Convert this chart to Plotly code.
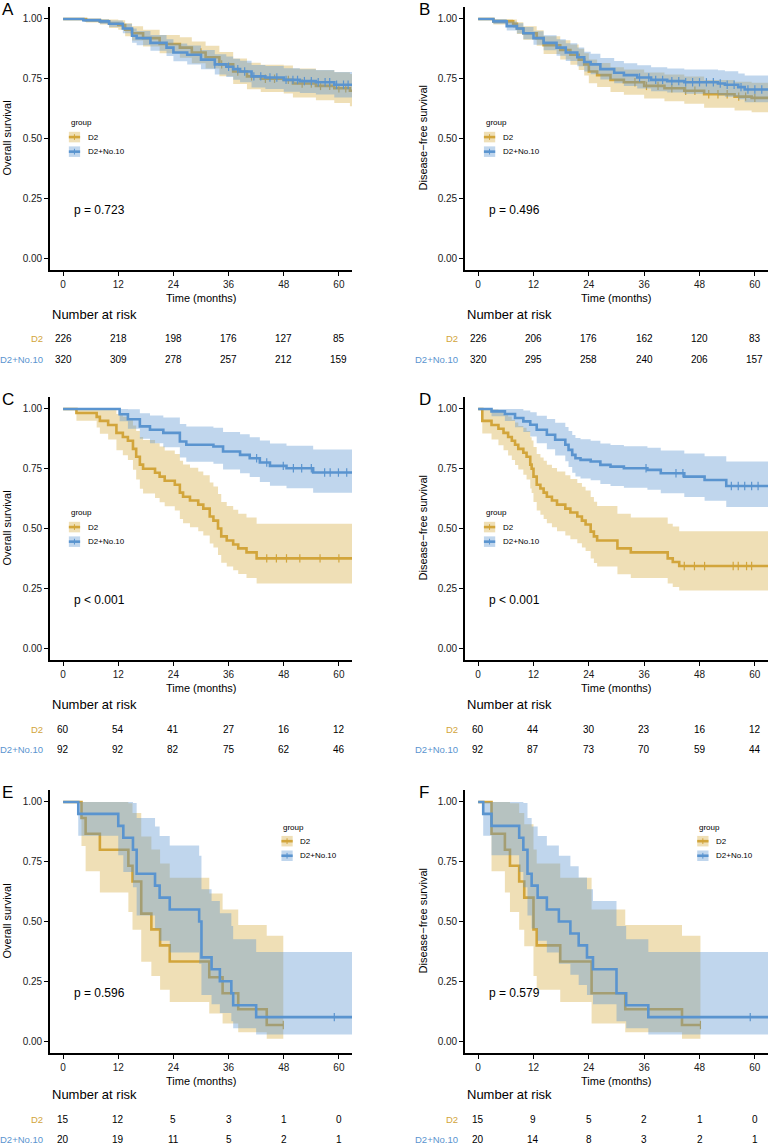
import plotly.graph_objects as go
from bisect import bisect_right

W, H = 768, 1146
GOLD = '#D2A53B'
BLUE = '#5A94CF'
GOLD_FILL = 'rgba(214,170,62,0.38)'
BLUE_FILL = 'rgba(90,148,207,0.38)'
FONT = 'Liberation Sans, Arial, Helvetica, sans-serif'

time_ticks = [0, 12, 24, 36, 48, 60]
surv_ticks = [0, 0.25, 0.5, 0.75, 1.0]
surv_labels = ['0.00', '0.25', '0.50', '0.75', '1.00']
groups = ['D2', 'D2+No.10']

# ---------------- Panel A (OS, all patients) ----------------
A_d2_t = [0, 5, 8, 10, 12, 13.5, 15, 17.4, 21, 25.4, 28, 31, 34, 37, 40, 43, 48, 50, 55, 59, 62.4]
A_d2_s = [1, .995, .99, .98, .975, .955, .94, .92, .895, .88, .86, .84, .81, .78, .76, .75, .745, .73, .72, .71, .70]
A_d2_lo = [1, .985, .977, .962, .955, .928, .91, .885, .857, .838, .815, .793, .76, .728, .706, .695, .688, .672, .66, .648, .635]
A_d2_hi = [1, 1, 1, .998, .995, .982, .97, .955, .933, .923, .906, .888, .862, .835, .817, .808, .805, .793, .785, .777, .770]
A_d2_cens = [30, 34.5, 38, 41, 44, 46, 49, 52, 54, 56, 58, 60, 61.5]
A_no10_t = [0, 4.4, 8, 10, 13, 15, 16, 19, 22.5, 24, 27, 30, 33, 35.5, 37, 38.5, 41, 44, 48, 51.5, 55, 59]
A_no10_s = [1, .995, .99, .98, .96, .93, .92, .90, .88, .86, .85, .83, .81, .80, .79, .78, .76, .755, .745, .74, .735, .725]
A_no10_lo = [1, .987, .979, .966, .94, .90, .89, .867, .845, .823, .81, .79, .768, .757, .746, .735, .713, .707, .696, .69, .684, .672]
A_no10_hi = [1, 1, .999, .994, .98, .96, .95, .933, .915, .897, .889, .87, .852, .843, .834, .825, .807, .803, .794, .79, .786, .778]
A_no10_cens = [33, 36, 38, 39.5, 41.5, 43, 45, 46.5, 48.5, 50, 51, 52.5, 54, 55.5, 57, 58, 59.5, 61, 62]
A_risk_d2 = [226, 218, 198, 176, 127, 85]
A_risk_no10 = [320, 309, 278, 257, 212, 159]

# ---------------- Panel B (DFS, all patients) ----------------
B_d2_t = [0, 3.3, 7.6, 8.4, 9.8, 12.7, 14.2, 17.8, 20, 21.8, 23, 24, 25.8, 28.7, 31.6, 36, 40.4, 44.7, 49, 55.6, 59.3]
B_d2_s = [1, .99, .98, .96, .94, .92, .89, .87, .85, .83, .81, .78, .765, .745, .735, .72, .71, .70, .685, .675, .67]
B_d2_lo = [1, .977, .962, .937, .913, .888, .853, .83, .808, .786, .764, .731, .715, .694, .683, .667, .656, .645, .629, .617, .61]
B_d2_hi = [1, 1, .998, .986, .969, .953, .928, .911, .893, .875, .857, .83, .816, .798, .789, .776, .768, .759, .745, .737, .733]
B_d2_cens = [34, 36.5, 39, 42, 45, 47, 50, 52, 54, 56.5, 58, 60]
B_no10_t = [0, 3.3, 6.2, 8.4, 9.8, 12, 14.2, 17, 19, 21.5, 23, 24.4, 26.5, 29.5, 31.6, 34.5, 37.5, 41, 44.7, 52, 53.5, 56.4, 57.8]
B_no10_s = [1, .99, .97, .96, .94, .92, .90, .88, .86, .84, .82, .81, .79, .775, .765, .755, .745, .74, .735, .73, .725, .715, .705]
B_no10_lo = [1, .979, .952, .939, .915, .892, .869, .846, .824, .802, .78, .769, .747, .731, .72, .709, .698, .692, .687, .681, .675, .664, .652]
B_no10_hi = [1, 1, .989, .982, .966, .949, .932, .915, .898, .881, .863, .854, .837, .824, .815, .806, .798, .793, .789, .785, .781, .772, .763]
B_no10_cens = [35, 37, 38.5, 40, 42, 43.5, 45, 46.5, 48, 49.5, 51, 52.5, 54, 55.5, 57, 58.5, 60, 61.5]
B_risk_d2 = [226, 206, 176, 162, 120, 83]
B_risk_no10 = [320, 295, 258, 240, 206, 157]

# ---------------- Panel C (OS, subgroup) ----------------
C_d2_t = [0, 2.9, 7.3, 8.0, 9.8, 11.6, 13.0, 14.1, 15.2, 15.9, 16.7, 17.4, 20.0, 21.0, 22.1, 24.3, 25.4, 26.1, 27.6, 29.4, 30.5, 31.9, 32.7, 33.7, 34.4, 35.6, 37.0, 38.1, 39.9, 42.1]
C_d2_s = [1, .983, .967, .95, .933, .90, .883, .867, .833, .80, .767, .75, .733, .717, .70, .683, .65, .633, .617, .60, .583, .55, .533, .50, .467, .45, .433, .417, .40, .375]
C_d2_lo = [1, .951, .922, .896, .872, .827, .806, .786, .746, .705, .666, .646, .628, .610, .593, .575, .540, .522, .505, .488, .471, .437, .421, .389, .357, .341, .325, .310, .293, .270]
C_d2_hi = [1, 1, 1, 1, .998, .979, .967, .956, .931, .908, .883, .870, .857, .843, .826, .812, .783, .768, .754, .738, .723, .692, .676, .644, .611, .594, .578, .562, .546, .520]
C_d2_cens = [44.3, 46.4, 48.6, 51.5, 55.9, 60.0]
C_no10_t = [0, 12.3, 14.1, 16.7, 18.9, 21.8, 25.4, 26.8, 32.7, 34.8, 38.5, 40.6, 42.8, 45.0, 48.6, 54.4]
C_no10_s = [1, .978, .957, .927, .913, .90, .864, .85, .843, .822, .808, .794, .776, .762, .752, .734]
C_no10_lo = [1, .949, .917, .875, .857, .840, .797, .779, .771, .747, .731, .715, .694, .679, .668, .650]
C_no10_hi = [1, 1, .999, .982, .973, .964, .937, .927, .921, .904, .894, .882, .868, .855, .846, .830]
C_no10_cens = [42.1, 44.3, 47.9, 50.1, 51.9, 54.0, 56.9, 58.1, 59.9, 61.7]
C_risk_d2 = [60, 54, 41, 27, 16, 12]
C_risk_no10 = [92, 92, 82, 75, 62, 46]

# ---------------- Panel D (DFS, subgroup) ----------------
D_d2_t = [0, 0.9, 2.9, 4.4, 5.5, 6.5, 7.3, 8.0, 8.7, 9.8, 10.5, 11.3, 11.6, 12.0, 12.7, 13.5, 14.2, 14.9, 16.0, 17.1, 18.9, 20.0, 21.5, 22.5, 23.3, 24.4, 25.1, 25.8, 30.2, 33.1, 41.1, 42.2, 43.6]
D_d2_s = [1, .95, .933, .917, .90, .883, .867, .85, .833, .817, .80, .767, .75, .717, .683, .667, .65, .633, .617, .60, .583, .567, .55, .533, .517, .487, .467, .45, .417, .40, .375, .36, .343]
D_d2_lo = [1, .897, .872, .848, .827, .805, .786, .766, .747, .725, .705, .667, .648, .611, .575, .558, .540, .522, .505, .488, .471, .455, .438, .421, .406, .375, .356, .341, .309, .293, .270, .255, .241]
D_d2_hi = [1, 1, .998, .991, .979, .968, .955, .943, .929, .921, .908, .882, .868, .841, .812, .797, .783, .767, .753, .738, .723, .707, .690, .675, .659, .632, .612, .594, .562, .546, .520, .508, .488]
D_d2_cens = [44.7, 46.9, 49.1, 55.3, 56.4, 58.2, 59.3]
D_no10_t = [0, 2.9, 5.8, 8.0, 9.8, 11.3, 12.7, 14.9, 16.7, 18.9, 19.6, 20.4, 21.1, 22.2, 24.4, 26.5, 28.7, 31.6, 36.7, 39.6, 44.7, 49.1, 53.8]
D_no10_s = [1, .99, .979, .962, .948, .934, .913, .892, .871, .85, .829, .808, .794, .787, .78, .766, .759, .752, .745, .731, .717, .703, .678]
D_no10_lo = [1, .97, .95, .924, .904, .885, .857, .831, .805, .781, .757, .733, .717, .709, .702, .686, .678, .670, .662, .647, .632, .616, .590]
D_no10_hi = [1, 1, 1, 1, .994, .986, .972, .958, .942, .925, .908, .891, .879, .873, .867, .855, .849, .844, .838, .826, .814, .802, .780]
D_no10_cens = [36.4, 42.9, 44.4, 54.9, 56.4, 57.8, 59.3, 60.7]
D_risk_d2 = [60, 44, 30, 23, 16, 12]
D_risk_no10 = [92, 87, 73, 70, 59, 44]

# ---------------- Panel E (OS, small subgroup) ----------------
E_d2_t = [0, 4.0, 4.9, 8.0, 14.2, 15.1, 17.0, 19.2, 21.1, 23.2, 31.8, 34.7, 38.1, 44.3]
E_d2_s = [1, .933, .867, .80, .733, .667, .533, .467, .40, .333, .267, .20, .133, .067]
E_d2_lo = [1, .816, .710, .621, .540, .466, .332, .272, .215, .163, .115, .073, .037, .010]
E_d2_hi = [1, 1, 1, 1, .995, .954, .856, .801, .743, .683, .617, .550, .485, .44]
E_d2_cens = [47.9]
E_no10_t = [0, 3.3, 12.0, 13.1, 15.2, 16.0, 20.0, 21.0, 23.2, 29.6, 30.1, 32.3, 34.1, 36.6, 37.0, 42.0]
E_no10_s = [1, .95, .90, .85, .80, .70, .65, .60, .55, .50, .35, .30, .25, .20, .15, .10]
E_no10_lo = [1, .859, .777, .707, .643, .525, .471, .420, .370, .323, .193, .154, .117, .083, .053, .027]
E_no10_hi = [1, 1, 1, 1, .996, .933, .897, .858, .818, .775, .635, .586, .534, .481, .426, .372]
E_no10_cens = [59.0]
E_risk_d2 = [15, 12, 5, 3, 1, 0]
E_risk_no10 = [20, 19, 11, 5, 2, 1]

# ---------------- Panel F (DFS, small subgroup) ----------------
F_d2_t = [0, 2.9, 5.8, 6.9, 8.9, 10.0, 12.0, 12.7, 17.8, 24.6, 31.9, 44.2]
F_d2_s = [1, .867, .80, .733, .667, .60, .467, .40, .333, .20, .133, .067]
F_d2_lo = [1, .710, .621, .540, .466, .397, .272, .215, .163, .073, .037, .010]
F_d2_hi = [1, 1, 1, .995, .954, .907, .801, .743, .683, .550, .485, .44]
F_d2_cens = [48.2]
F_no10_t = [0, 1.1, 2.9, 8.9, 9.8, 10.7, 11.6, 12.9, 14.9, 17.5, 20.0, 21.8, 23.6, 24.9, 30.0, 32.1, 36.9]
F_no10_s = [1, .95, .90, .85, .80, .70, .65, .60, .55, .50, .45, .40, .35, .30, .20, .15, .10]
F_no10_lo = [1, .859, .777, .707, .643, .525, .471, .420, .370, .323, .277, .234, .193, .154, .083, .053, .027]
F_no10_hi = [1, 1, 1, 1, .996, .933, .897, .858, .818, .775, .731, .684, .635, .586, .481, .426, .372]
F_no10_cens = [59.0]
F_risk_d2 = [15, 9, 5, 2, 1, 0]
F_risk_no10 = [20, 14, 8, 3, 2, 1]

X_END = 62.85
panels = [
    dict(letter='A', ytitle='Overall survival', p='p = 0.723', leg='left', col=0, row=0,
         d2=(A_d2_t, A_d2_s, A_d2_lo, A_d2_hi, X_END, A_d2_cens),
         no10=(A_no10_t, A_no10_s, A_no10_lo, A_no10_hi, X_END, A_no10_cens),
         risk=(A_risk_d2, A_risk_no10)),
    dict(letter='B', ytitle='Disease\u2212free survival', p='p = 0.496', leg='left', col=1, row=0,
         d2=(B_d2_t, B_d2_s, B_d2_lo, B_d2_hi, X_END, B_d2_cens),
         no10=(B_no10_t, B_no10_s, B_no10_lo, B_no10_hi, X_END, B_no10_cens),
         risk=(B_risk_d2, B_risk_no10)),
    dict(letter='C', ytitle='Overall survival', p='p < 0.001', leg='left', col=0, row=1,
         d2=(C_d2_t, C_d2_s, C_d2_lo, C_d2_hi, X_END, C_d2_cens),
         no10=(C_no10_t, C_no10_s, C_no10_lo, C_no10_hi, X_END, C_no10_cens),
         risk=(C_risk_d2, C_risk_no10)),
    dict(letter='D', ytitle='Disease\u2212free survival', p='p < 0.001', leg='left', col=1, row=1,
         d2=(D_d2_t, D_d2_s, D_d2_lo, D_d2_hi, X_END, D_d2_cens),
         no10=(D_no10_t, D_no10_s, D_no10_lo, D_no10_hi, X_END, D_no10_cens),
         risk=(D_risk_d2, D_risk_no10)),
    dict(letter='E', ytitle='Overall survival', p='p = 0.596', leg='right', col=0, row=2,
         d2=(E_d2_t, E_d2_s, E_d2_lo, E_d2_hi, 47.9, E_d2_cens),
         no10=(E_no10_t, E_no10_s, E_no10_lo, E_no10_hi, X_END, E_no10_cens),
         risk=(E_risk_d2, E_risk_no10)),
    dict(letter='F', ytitle='Disease\u2212free survival', p='p = 0.579', leg='right', col=1, row=2,
         d2=(F_d2_t, F_d2_s, F_d2_lo, F_d2_hi, 48.2, F_d2_cens),
         no10=(F_no10_t, F_no10_s, F_no10_lo, F_no10_hi, X_END, F_no10_cens),
         risk=(F_risk_d2, F_risk_no10)),
]

col_px = [(50, 352), (465, 768)]
row_px = [(7, 270), (397, 660), (790, 1053)]
row_risk_shift = [0, 0, -3]
letter_x = [0, 417]
ytitle_x = [6, 422]


def py(px):
    return 1 - px / H


def px_x(px):
    return px / W


fig = go.Figure()
annotations = []
shapes = []
layout_axes = {}

for i, P in enumerate(panels):
    sfx = '' if i == 0 else str(i + 1)
    xa, ya = 'x' + sfx, 'y' + sfx
    c0, c1 = col_px[P['col']]
    r0, r1 = row_px[P['row']]
    layout_axes['xaxis' + sfx] = dict(
        domain=[c0 / W, c1 / W], range=[-2.85, X_END], anchor=ya,
        tickvals=time_ticks, ticks='outside', ticklen=4, tickwidth=1.2, tickcolor='black',
        showline=True, linecolor='black', linewidth=1.8, showgrid=False, zeroline=False,
        tickfont=dict(size=10, color='#1a1a1a', family=FONT), fixedrange=True)
    layout_axes['yaxis' + sfx] = dict(
        domain=[py(r1), py(r0)], range=[-0.05, 1.05], anchor=xa,
        tickvals=surv_ticks, ticktext=surv_labels, ticks='outside', ticklen=4, tickwidth=1.2,
        tickcolor='black', showline=True, linecolor='black', linewidth=1.8, showgrid=False,
        zeroline=False, tickfont=dict(size=10, color='#1a1a1a', family=FONT), fixedrange=True)

    for key, col, fill in [('d2', GOLD, GOLD_FILL), ('no10', BLUE, BLUE_FILL)]:
        t, s, lo, hi, tend, cens = P[key]
        tx = t + [tend]
        fig.add_trace(go.Scatter(x=tx, y=lo + [lo[-1]], mode='lines', line=dict(width=0, shape='hv'),
                                 xaxis=xa, yaxis=ya, showlegend=False, hoverinfo='skip'))
        fig.add_trace(go.Scatter(x=tx, y=hi + [hi[-1]], mode='lines', line=dict(width=0, shape='hv'),
                                 fill='tonexty', fillcolor=fill,
                                 xaxis=xa, yaxis=ya, showlegend=False, hoverinfo='skip'))
        fig.add_trace(go.Scatter(x=tx, y=s + [s[-1]], mode='lines', line=dict(color=col, width=2.6, shape='hv'),
                                 xaxis=xa, yaxis=ya, showlegend=False))
        cy = [s[bisect_right(t, c) - 1] for c in cens]
        fig.add_trace(go.Scatter(x=cens, y=cy, mode='markers',
                                 marker=dict(symbol='line-ns', size=6, line=dict(color=col, width=1.2)),
                                 xaxis=xa, yaxis=ya, showlegend=False))

    # panel letter
    annotations.append(dict(text=P['letter'], x=px_x(letter_x[P['col']]), y=py(r0 + 2),
                            xref='paper', yref='paper', xanchor='left', yanchor='middle',
                            showarrow=False, font=dict(size=17, color='black', family=FONT)))
    # y title
    annotations.append(dict(text=P['ytitle'], x=px_x(ytitle_x[P['col']]), y=py((r0 + r1) / 2),
                            xref='paper', yref='paper', xanchor='center', yanchor='middle',
                            textangle=-90, showarrow=False, font=dict(size=11, color='black', family=FONT)))
    # p-value
    annotations.append(dict(text=P['p'], x=1.9, y=0.2, xref=xa, yref=ya, xanchor='left', yanchor='middle',
                            showarrow=False, font=dict(size=12, color='black', family=FONT)))
    # legend
    if P['leg'] == 'left':
        lx, ly = 1.25, 0.565
    else:
        lx, ly = 47.5, 0.895
    annotations.append(dict(text='group', x=lx, y=ly, xref=xa, yref=ya, xanchor='left', yanchor='middle',
                            showarrow=False, font=dict(size=8, color='black', family=FONT)))
    for k, (name, col, fill) in enumerate([('D2', GOLD, GOLD_FILL), ('D2+No.10', BLUE, BLUE_FILL)]):
        yy = ly - 0.059 - k * 0.061
        shapes.append(dict(type='rect', xref=xa, yref=ya, x0=lx, x1=lx + 2.45, y0=yy - 0.022, y1=yy + 0.022,
                           fillcolor=fill, line=dict(width=0)))
        shapes.append(dict(type='line', xref=xa, yref=ya, x0=lx, x1=lx + 2.45, y0=yy, y1=yy,
                           line=dict(color=col, width=2.6)))
        shapes.append(dict(type='line', xref=xa, yref=ya, x0=lx + 1.22, x1=lx + 1.22, y0=yy - 0.012,
                           y1=yy + 0.012, line=dict(color=col, width=1)))
        annotations.append(dict(text=name, x=lx + 3.7, y=yy, xref=xa, yref=ya, xanchor='left',
                                yanchor='middle', showarrow=False,
                                font=dict(size=8, color='black', family=FONT)))

    # x title and risk table
    ab = r1
    sh = row_risk_shift[P['row']]
    annotations.append(dict(text='Time (months)', x=(-2.85 + X_END) / 2, y=py(ab + 28), xref=xa, yref='paper',
                            xanchor='center', yanchor='middle', showarrow=False,
                            font=dict(size=11, color='black', family=FONT)))
    annotations.append(dict(text='Number at risk', x=px_x(c0), y=py(ab + 44.5 + sh), xref='paper', yref='paper',
                            xanchor='left', yanchor='middle', showarrow=False,
                            font=dict(size=13, color='black', family=FONT)))
    for k, (name, col, counts) in enumerate([('D2', GOLD, P['risk'][0]), ('D2+No.10', BLUE, P['risk'][1])]):
        yrow = py(ab + 69 + k * 20.5 + sh)
        annotations.append(dict(text=name, x=px_x(c0 - 5), y=yrow, xref='paper', yref='paper',
                                xanchor='right', yanchor='middle', showarrow=False,
                                font=dict(size=9.5, color=col, family=FONT)))
        for tv, n in zip(time_ticks, counts):
            annotations.append(dict(text=str(n), x=tv, y=yrow, xref=xa, yref='paper',
                                    xanchor='center', yanchor='middle', showarrow=False,
                                    font=dict(size=10, color='black', family=FONT)))

fig.update_layout(width=W, height=H, margin=dict(l=0, r=0, t=0, b=0),
                  paper_bgcolor='white', plot_bgcolor='white', showlegend=False,
                  font=dict(family=FONT), annotations=annotations, shapes=shapes, **layout_axes)

fig.write_html('out.html', config={'displayModeBar': False},
               post_script="document.body.style.margin='0';document.body.style.padding='0';"
                           "document.body.style.overflow='hidden';"
                           "document.documentElement.style.overflow='hidden';")
